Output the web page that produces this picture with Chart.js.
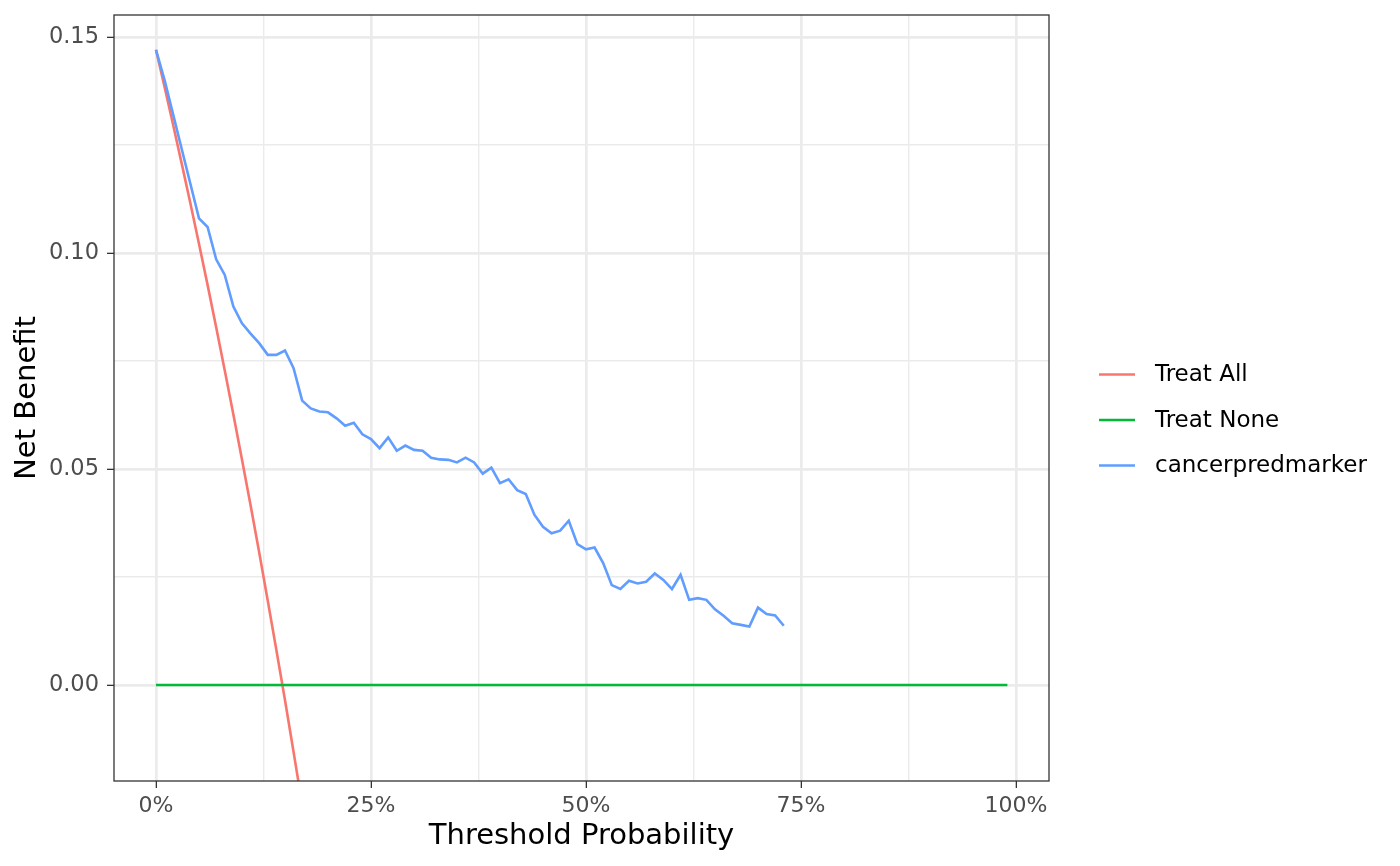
<!DOCTYPE html>
<html><head><meta charset="utf-8">
<script src="https://cdn.jsdelivr.net/npm/chart.js@4/dist/chart.umd.min.js"></script>
<style>html,body{margin:0;padding:0;background:#fff}#wrap{width:1400px;height:866px}</style>
</head><body><div id="wrap"><canvas id="c" width="1400" height="866"></canvas></div>
<script>
const thresholds = [0,0.01,0.02,0.03,0.04,0.05,0.06,0.07,0.08,0.09,0.10,0.11,0.12,0.13,0.14,0.15,0.16,0.17,0.18,0.19,
0.20,0.21,0.22,0.23,0.24,0.25,0.26,0.27,0.28,0.29,0.30,0.31,0.32,0.33,0.34,0.35,0.36,0.37,0.38,0.39,
0.40,0.41,0.42,0.43,0.44,0.45,0.46,0.47,0.48,0.49,0.50,0.51,0.52,0.53,0.54,0.55,0.56,0.57,0.58,0.59,
0.60,0.61,0.62,0.63,0.64,0.65,0.66,0.67,0.68,0.69,0.70,0.71,0.72,0.73,0.74,0.75,0.76,0.77,0.78,0.79,
0.80,0.81,0.82,0.83,0.84,0.85,0.86,0.87,0.88,0.89,0.90,0.91,0.92,0.93,0.94,0.95,0.96,0.97,0.98,0.99];
const treatAll = [0.147,0.1384,0.1296,0.1206,0.1115,0.1021,0.0926,0.0828,0.0728,0.0626,0.0522,0.0416,0.0307,0.0195,0.0081,-0.0035,-0.0155,-0.0277,-0.0402];
const treatNone = [0,0,0,0,0,0,0,0,0,0,0,0,0,0,0,0,0,0,0,0,0,0,0,0,0,0,0,0,0,0,0,0,0,0,0,0,0,0,0,0,0,0,0,0,0,0,0,0,0,0,
0,0,0,0,0,0,0,0,0,0,0,0,0,0,0,0,0,0,0,0,0,0,0,0,0,0,0,0,0,0,0,0,0,0,0,0,0,0,0,0,0,0,0,0,0,0,0,0,0,0];
const cancerpredmarker = [0.147,0.140,0.132,0.124,0.116,0.108,0.106,0.0985,0.0949,0.0876,
0.0837,0.0813,0.0791,0.0764,0.0764,0.0774,0.0733,0.0658,0.0640,0.0633,
0.0631,0.0617,0.0600,0.0607,0.0580,0.0569,0.0548,0.0573,0.0542,0.0554,
0.0544,0.0542,0.0526,0.0522,0.0521,0.0515,0.0526,0.0515,0.0489,0.0503,
0.0467,0.0476,0.0451,0.0442,0.0394,0.0366,0.0351,0.0357,0.0380,0.0326,
0.0314,0.0318,0.0282,0.0231,0.0222,0.0241,0.0235,0.0239,0.0258,0.0243,
0.0222,0.0255,0.0197,0.0201,0.0197,0.0175,0.0160,0.0143,0.0139,0.0135,
0.0179,0.0164,0.0161,0.0137];
const xMajorTicks = [0,0.25,0.5,0.75,1];
const xMinorTicks = [0.125,0.375,0.625,0.875];
const xTickLabels = ['0%','25%','50%','75%','100%'];
const yMajorTicks = [0,0.05,0.10,0.15];
const yMinorTicks = [0.025,0.075,0.125];
const yTickLabels = ['0.00','0.05','0.10','0.15'];
const seriesNames = ['Treat All','Treat None','cancerpredmarker'];
const seriesColors = ['#F8766D','#00BA38','#619CFF'];

const FONT = "'DejaVu Sans', sans-serif";
const pts = vals => vals.map((v,i)=>({x:thresholds[i], y:v}));
const idxOf = (v, arr) => arr.findIndex(m => Math.abs(m - v) < 1e-9);
const allTicks = (a,b) => a.concat(b).sort((p,q)=>p-q).map(v=>({value:v}));

const panelBorder = {
  id:'panelBorder',
  afterDatasetsDraw(chart){
    const {ctx, chartArea:a} = chart;
    ctx.save();
    ctx.strokeStyle = '#333333';
    ctx.lineWidth = 1.3;
    ctx.strokeRect(a.left, a.top, a.right - a.left, a.bottom - a.top);
    ctx.restore();
  }
};
const sideLegend = {
  id:'sideLegend',
  afterDraw(chart){
    const ctx = chart.ctx;
    ctx.save();
    chart.data.datasets.forEach((ds,i)=>{
      const y = 374.5 + i*45.5;
      ctx.strokeStyle = ds.borderColor;
      ctx.lineWidth = 2.6;
      ctx.beginPath(); ctx.moveTo(1099,y); ctx.lineTo(1135,y); ctx.stroke();
      ctx.fillStyle = '#000';
      ctx.font = "23px " + FONT;
      ctx.textBaseline = 'middle';
      ctx.textAlign = 'left';
      ctx.fillText(ds.label, 1155, y + 1);
    });
    ctx.restore();
  }
};

const ds = (vals, i, order) => ({
  label: seriesNames[i], data: pts(vals), borderColor: seriesColors[i], backgroundColor: seriesColors[i],
  borderWidth: 2.6, pointRadius: 0, fill: false, tension: 0, order
});

new Chart(document.getElementById('c'), {
  type:'line',
  data:{datasets:[ds(treatAll,0,2), ds(treatNone,1,1), ds(cancerpredmarker,2,0)]},
  options:{
    responsive:false, animation:false, devicePixelRatio:1,
    layout:{padding:{top:15,right:351,bottom:0,left:0}},
    plugins:{legend:{display:false}, tooltip:{enabled:false}},
    scales:{
      x:{
        type:'linear', min:-0.0488, max:1.0384,
        afterBuildTicks: s => { s.ticks = allTicks(xMajorTicks, xMinorTicks); },
        afterFit: s => { s.height = 85; s.paddingLeft = 0; s.paddingRight = 0; },
        border:{display:false},
        grid:{
          color:'#EBEBEB',
          lineWidth: c => idxOf(c.tick.value, xMajorTicks) >= 0 ? 2.7 : 1.4,
          drawTicks:true, tickLength:7, tickWidth:1.3,
          tickColor: c => idxOf(c.tick.value, xMajorTicks) >= 0 ? '#333333' : 'rgba(0,0,0,0)'
        },
        ticks:{
          autoSkip:false, maxRotation:0, padding:5, color:'#4D4D4D',
          font:{family:FONT, size:22},
          callback: v => { const k = idxOf(v, xMajorTicks); return k >= 0 ? xTickLabels[k] : ''; }
        },
        title:{display:true, text:'Threshold Probability', color:'#000', font:{family:FONT, size:29}, padding:{top:0,bottom:12}}
      },
      y:{
        type:'linear', min:-0.02223, max:0.15506,
        afterBuildTicks: s => { s.ticks = allTicks(yMajorTicks, yMinorTicks); },
        afterFit: s => { s.width = 114; s.paddingTop = 0; s.paddingBottom = 0; },
        border:{display:false},
        grid:{
          color:'#EBEBEB',
          lineWidth: c => idxOf(c.tick.value, yMajorTicks) >= 0 ? 2.7 : 1.4,
          drawTicks:true, tickLength:7, tickWidth:1.3,
          tickColor: c => idxOf(c.tick.value, yMajorTicks) >= 0 ? '#333333' : 'rgba(0,0,0,0)'
        },
        ticks:{
          autoSkip:false, padding:8, color:'#4D4D4D',
          font:{family:FONT, size:22.5},
          callback: v => { const k = idxOf(v, yMajorTicks); return k >= 0 ? yTickLabels[k] : ''; }
        },
        title:{display:true, text:'Net Benefit', color:'#000', font:{family:FONT, size:29}, padding:{top:10,bottom:0}}
      }
    }
  },
  plugins:[panelBorder, sideLegend]
});
</script></body></html>
